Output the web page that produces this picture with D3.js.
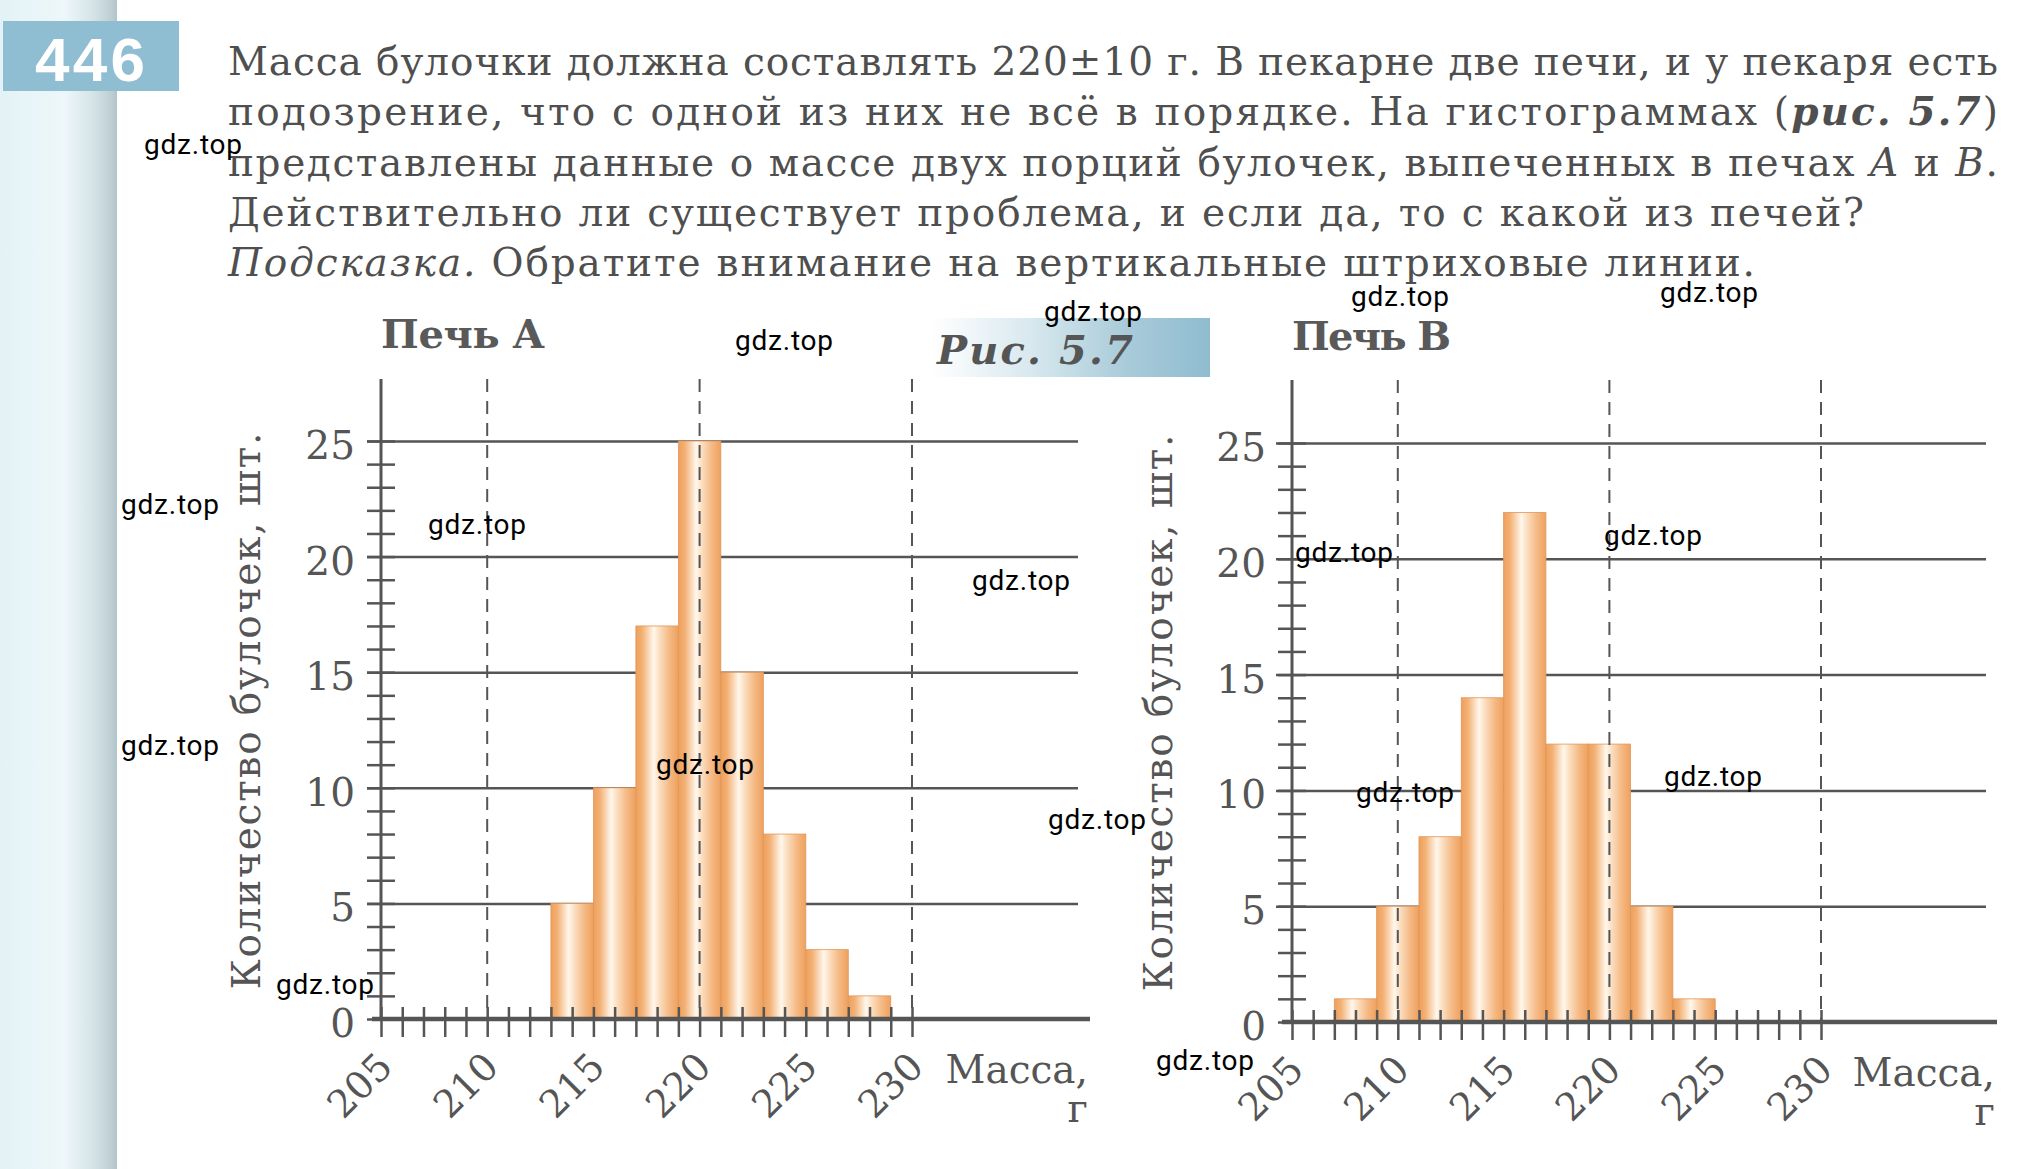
<!DOCTYPE html>
<html>
<head>
<meta charset="utf-8">
<script src="https://cdn.jsdelivr.net/npm/d3@7"></script>
<style>
    body { margin: 0; background: #fff; }
    svg { display: block; }
</style>
</head>
<body>
<div class="page"></div>
<script>
// Chart data
const massTicks = [205, 210, 215, 220, 225, 230];
const countTicks = [0, 5, 10, 15, 20, 25];
const toleranceMarks = [210, 220, 230];
const binWidth = 2;
const binStartsA = [213, 215, 217, 219, 221, 223, 225, 227];
const countsA = [5, 10, 17, 25, 15, 8, 3, 1];
const binStartsB = [207, 209, 211, 213, 215, 217, 219, 221, 223];
const countsB = [1, 5, 8, 14, 22, 12, 12, 5, 1];

const SERIF = '"DejaVu Serif", "Liberation Serif", serif';
const INK = '#555';

// Page base
const svg = d3.select('.page')
    .append('svg')
    .attr('width', 2041)
    .attr('height', 1169);

const defs = svg.append('defs');

function gradient(id, stops, vertical) {
    const lg = defs.append('linearGradient')
        .attr('id', id)
        .attr('x1', 0).attr('y1', 0)
        .attr('x2', vertical ? 0 : 1).attr('y2', vertical ? 1 : 0);
    stops.forEach(s => lg.append('stop').attr('offset', s[0]).attr('stop-color', s[1]));
}

gradient('bun', [
    [0, '#eea05c'], [0.15, '#f3b074'], [0.42, '#fff7ec'],
    [0.55, '#fbdfc2'], [0.78, '#f5ba86'], [1, '#eea15d']
]);
gradient('margin', [
    [0, '#e3f2f7'], [0.55, '#eef7f9'], [0.8, '#d5e3e7'], [0.96, '#bccdd2'], [1, '#b2c3c8']
]);
gradient('figbox', [
    [0, '#ffffff'], [0.35, '#d9e9ef'], [0.7, '#a9cbd9'], [1, '#8fbcd0']
]);

svg.append('rect').attr('width', 2041).attr('height', 1169).attr('fill', '#fff');
svg.append('rect').attr('width', 117).attr('height', 1169).attr('fill', 'url(#margin)');

// Exercise number
svg.append('rect')
    .attr('x', 3).attr('y', 21).attr('width', 176).attr('height', 70)
    .attr('fill', '#8fbed2');
svg.append('text')
    .attr('x', 35).attr('y', 81)
    .attr('textLength', 110)
    .style('font', 'bold 62px "Liberation Sans", Arial, sans-serif')
    .style('fill', '#fff')
    .text('446');

// Problem text
const lines = [
    {w: 1770, parts: [['Масса булочки должна составлять 220±10 г. В пекарне две печи, и у пекаря есть', '']]},
    {w: 1770, parts: [['подозрение, что с одной из них не всё в порядке. На гистограммах (', ''],
                      ['рис. 5.7', 'bi'], [')', '']]},
    {w: 1770, parts: [['представлены данные о массе двух порций булочек, выпеченных в печах ', ''],
                      ['A', 'i'], [' и ', ''], ['B', 'i'], ['.', '']]},
    {w: 1636, parts: [['Действительно ли существует проблема, и если да, то с какой из печей?', '']]},
    {w: 1527, parts: [['Подсказка.', 'i'], [' Обратите внимание на вертикальные штриховые линии.', '']]}
];

lines.forEach((ln, i) => {
    const t = svg.append('text')
        .attr('x', 228)
        .attr('y', 75 + i * 50.3)
        .attr('textLength', ln.w)
        .attr('lengthAdjust', 'spacing')
        .style('font-family', SERIF)
        .style('font-size', '39px')
        .style('fill', '#4f4f4f');
    ln.parts.forEach(p => {
        t.append('tspan')
            .style('font-style', p[1].includes('i') ? 'italic' : 'normal')
            .style('font-weight', p[1].includes('b') ? 'bold' : 'normal')
            .text(p[0]);
    });
});

// Figure caption
svg.append('rect')
    .attr('x', 931).attr('y', 318).attr('width', 279).attr('height', 59)
    .attr('fill', 'url(#figbox)');
svg.append('text')
    .attr('x', 937).attr('y', 364)
    .attr('textLength', 196)
    .attr('lengthAdjust', 'spacing')
    .style('font-family', SERIF)
    .style('font-size', '40px')
    .style('font-weight', 'bold')
    .style('font-style', 'italic')
    .style('fill', '#555')
    .text('Рис. 5.7');

// Panels
function drawPanel(p) {
    const x = d3.scaleLinear().domain([205, 230]).range([p.left, p.right]);
    const y = d3.scaleLinear().domain([0, 25]).range([p.bottom, p.top25]);
    const g = svg.append('g');

    // horizontal gridlines
    g.append('g')
        .attr('transform', `translate(${p.gridX0}, 0)`)
        .call(d3.axisRight(y).tickValues(countTicks.slice(1)).tickSize(p.gridX1 - p.gridX0).tickFormat(''))
        .call(a => a.select('.domain').remove())
        .selectAll('.tick line')
        .attr('stroke', INK)
        .attr('stroke-width', 2.5);

    // bars
    g.append('g')
        .selectAll('rect')
        .data(d3.zip(p.bins, p.counts))
        .join('rect')
        .attr('x', d => x(d[0]))
        .attr('width', d => x(d[0] + binWidth) - x(d[0]))
        .attr('y', d => y(d[1]))
        .attr('height', d => y(0) - y(d[1]))
        .attr('fill', 'url(#bun)')
        .attr('stroke', '#e3965a')
        .attr('stroke-width', 0.8);

    // tolerance dashes
    g.append('g')
        .selectAll('line')
        .data(toleranceMarks)
        .join('line')
        .attr('x1', d => x(d)).attr('x2', d => x(d))
        .attr('y1', p.axisTop).attr('y2', y(0))
        .attr('stroke', INK)
        .attr('stroke-width', 2)
        .attr('stroke-dasharray', '13,9');

    // y axis line + minor ticks
    g.append('line')
        .attr('x1', x(205)).attr('x2', x(205))
        .attr('y1', p.axisTop).attr('y2', y(0))
        .attr('stroke', INK).attr('stroke-width', 3);

    const yTicks = g.append('g')
        .attr('transform', `translate(${x(205)}, 0)`)
        .call(d3.axisLeft(y).tickValues(d3.range(0, 26)).tickSize(14).tickFormat(''));
    yTicks.select('.domain').remove();
    yTicks.selectAll('.tick line').attr('x1', 14).attr('stroke', INK).attr('stroke-width', 2.5);

    // y labels
    const yLab = g.append('g')
        .attr('transform', `translate(${x(205)}, 0)`)
        .call(d3.axisLeft(y).tickValues(countTicks).tickSize(0).tickPadding(26));
    yLab.select('.domain').remove();
    yLab.attr('font-family', SERIF).attr('font-size', 39);
    yLab.selectAll('text').attr('fill', INK).attr('dy', '0.45em');

    // x axis line + ticks
    g.append('line')
        .attr('x1', p.axisX0).attr('x2', p.axisX1)
        .attr('y1', y(0)).attr('y2', y(0))
        .attr('stroke', INK).attr('stroke-width', 4.5);

    const xTicks = g.append('g')
        .attr('transform', `translate(0, ${y(0)})`)
        .call(d3.axisBottom(x).tickValues(d3.range(205, 231)).tickSize(18).tickFormat(''));
    xTicks.select('.domain').remove();
    xTicks.selectAll('.tick line').attr('y1', -12).attr('stroke', INK).attr('stroke-width', 2.5);

    // x labels, rotated
    const xLab = g.append('g')
        .attr('transform', `translate(0, ${y(0)})`)
        .call(d3.axisBottom(x).tickValues(massTicks).tickSize(0));
    xLab.select('.domain').remove();
    xLab.attr('font-family', SERIF).attr('font-size', 38).attr('text-anchor', 'end');
    xLab.selectAll('text')
        .attr('fill', INK)
        .attr('y', 0).attr('dy', 0)
        .attr('transform', 'translate(13, 50) rotate(-45)');

    // axis titles
    g.append('text')
        .attr('x', p.axisX1 - 2).attr('y', y(0) + 64)
        .attr('text-anchor', 'end')
        .style('font-family', SERIF).style('font-size', '39px').style('fill', INK)
        .text('Масса,');
    g.append('text')
        .attr('x', p.axisX1 - 2).attr('y', y(0) + 103)
        .attr('text-anchor', 'end')
        .style('font-family', SERIF).style('font-size', '39px').style('fill', INK)
        .text('г');

    g.append('text')
        .attr('transform', `translate(${p.yTitleX}, ${p.yTitleY}) rotate(-90)`)
        .attr('text-anchor', 'middle')
        .attr('textLength', 557)
        .attr('lengthAdjust', 'spacing')
        .style('font-family', SERIF).style('font-size', '39px').style('fill', INK)
        .text('Количество булочек, шт.');

    g.append('text')
        .attr('x', x(205)).attr('y', p.titleY)
        .attr('textLength', p.titleW)
        .attr('lengthAdjust', 'spacing')
        .style('font-family', SERIF).style('font-size', '40px')
        .style('font-weight', 'bold').style('fill', '#595959')
        .text(p.title);
}

drawPanel({
    title: 'Печь A', titleY: 348, titleW: 163,
    bins: binStartsA, counts: countsA,
    left: 381, right: 912, bottom: 1019, top25: 441, axisTop: 379,
    gridX0: 367, gridX1: 1078, axisX0: 372, axisX1: 1090,
    yTitleX: 260, yTitleY: 711
});

drawPanel({
    title: 'Печь B', titleY: 350, titleW: 159,
    bins: binStartsB, counts: countsB,
    left: 1292, right: 1821, bottom: 1022, top25: 443, axisTop: 380,
    gridX0: 1276, gridX1: 1986, axisX0: 1282, axisX1: 1997,
    yTitleX: 1172, yTitleY: 713
});

// Watermarks
const marks = [
    [144, 154], [121, 514], [121, 755], [276, 994], [428, 534], [735, 350],
    [1044, 321], [972, 590], [656, 774], [1048, 829], [1351, 306], [1660, 302],
    [1295, 562], [1604, 545], [1356, 802], [1664, 786], [1156, 1070]
];
svg.append('g')
    .selectAll('text')
    .data(marks)
    .join('text')
    .attr('x', d => d[0])
    .attr('y', d => d[1])
    .attr('textLength', 98)
    .style('font', '28px Roboto, "Liberation Sans", sans-serif')
    .style('fill', '#000')
    .text('gdz.top');
</script>
</body>
</html>
